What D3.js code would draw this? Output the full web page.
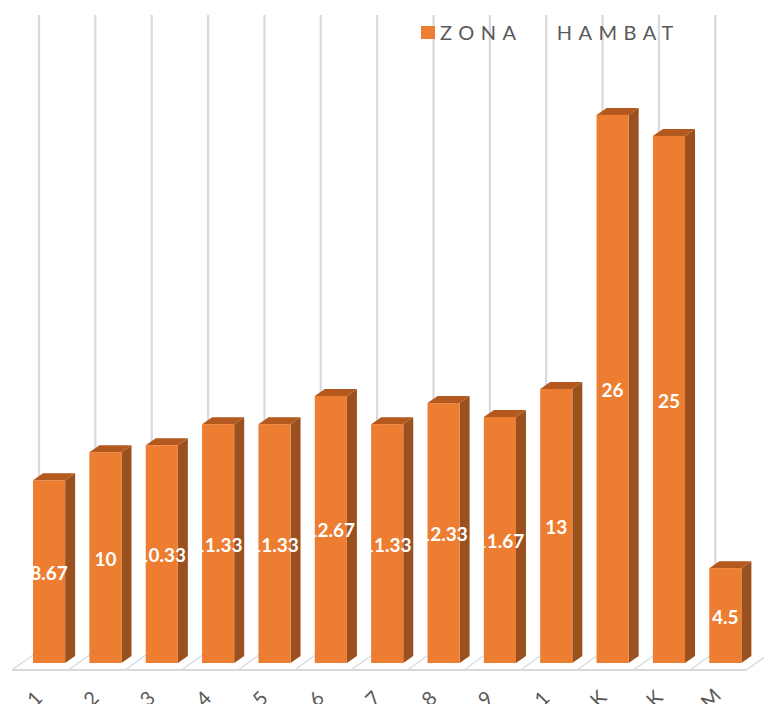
<!DOCTYPE html>
<html>
<head>
<meta charset="utf-8">
<script src="https://cdn.jsdelivr.net/npm/d3@7"></script>
<style>
  html, body { margin: 0; padding: 0; background: #fff; overflow: hidden; }
  svg { display: block; }
  text { font-family: Lato, "Open Sans", sans-serif; }
</style>
</head>
<body>
<svg id="chart" width="764" height="704"></svg>
<script>
// values
const categories = ["1", "2", "3", "4", "5", "6", "7", "8", "9", "1 ", "K", "K ", "M"];
const tickLabels = ["1", "2", "3", "4", "5", "6", "7", "8", "9", "1", "K", "K", "M"];
const values = [8.67, 10, 10.33, 11.33, 11.33, 12.67, 11.33, 12.33, 11.67, 13, 26, 25, 4.5];
const valueLabels = ["8.67", "10", "10.33", "11.33", "11.33", "12.67", "11.33", "12.33", "11.67", "13", "26", "25", "4.5"];
const seriesName = "ZONA   HAMBAT";

const DX = 10, DY = 7;          // bar extrusion
const FRONT = "#ed7d31", TOP = "#b3591f", SIDE = "#9a511f";
const GRID = "#d9d9d9";

const svg = d3.select("#chart");

const x = d3.scaleBand()
  .domain(categories)
  .range([20.9, 753.5])
  .paddingInner(0.43)
  .paddingOuter(0.215);

const y = d3.scaleLinear()
  .domain([0, 30])
  .range([663, 30.6]);

const bw = x.bandwidth();

// back wall grid lines
svg.append("g")
  .selectAll("line")
  .data(categories)
  .enter()
  .append("line")
  .attr("x1", d => x(d) + 6)
  .attr("x2", d => x(d) + 6)
  .attr("y1", 15)
  .attr("y2", 649)
  .attr("stroke", GRID)
  .attr("stroke-width", 2.2);

// floor
const floorY = 670, floorStep = 56.5;
const floor = svg.append("g").attr("fill", "none").attr("stroke", "#d6dce5").attr("stroke-width", 1.5);
floor.selectAll("line.diag")
  .data(categories.concat(["end"]))
  .enter()
  .append("line")
  .attr("class", "diag")
  .attr("x1", (d, i) => 12 + i * floorStep)
  .attr("y1", floorY)
  .attr("x2", (d, i) => 12 + i * floorStep + 21)
  .attr("y2", floorY - 15);
floor.append("line")
  .attr("x1", 12).attr("x2", 12 + categories.length * floorStep)
  .attr("y1", floorY).attr("y2", floorY)
  .attr("stroke", "#d9d9d9").attr("stroke-width", 2);

// bars: side, top, front face
const bars = svg.append("g")
  .selectAll("g")
  .data(values)
  .enter()
  .append("g");

const bx = (d, i) => x(categories[i]);

bars.append("path")
  .attr("fill", SIDE)
  .attr("d", (d, i) => {
    const r = bx(d, i) + bw, t = y(d), b = y(0);
    return `M${r},${t}L${r + DX},${t - DY}L${r + DX},${b - DY}L${r},${b}Z`;
  });

bars.append("path")
  .attr("fill", TOP)
  .attr("d", (d, i) => {
    const l = bx(d, i), t = y(d);
    return `M${l},${t}L${l + DX},${t - DY}L${l + bw + DX},${t - DY}L${l + bw},${t}Z`;
  });

bars.append("rect")
  .attr("x", bx)
  .attr("y", d => y(d))
  .attr("width", bw)
  .attr("height", d => y(0) - y(d))
  .attr("fill", FRONT);

// value labels sit half way up the bar
bars.append("text")
  .attr("x", (d, i) => bx(d, i) + bw / 2)
  .attr("y", d => (y(d) + y(0)) / 2 + 8)
  .attr("text-anchor", "middle")
  .attr("fill", "#fff")
  .attr("font-size", 19)
  .attr("font-weight", 700)
  .text((d, i) => valueLabels[i]);

// rotated category labels, cut off by the picture's bottom edge
svg.append("g")
  .selectAll("text")
  .data(tickLabels)
  .enter()
  .append("text")
  .attr("transform", (d, i) => `translate(${x(categories[i]) + bw / 2 - 13},${700}) rotate(-45)`)
  .attr("text-anchor", "middle")
  .attr("dominant-baseline", "middle")
  .attr("fill", "#595959")
  .attr("font-size", 20)
  .text(d => d);

// legend
svg.append("rect")
  .attr("x", 421).attr("y", 26)
  .attr("width", 14).attr("height", 13)
  .attr("fill", FRONT);

svg.append("text")
  .attr("x", 440).attr("y", 40)
  .attr("fill", "#595959")
  .attr("font-size", 20)
  .attr("letter-spacing", 6.5)
  .style("white-space", "pre")
  .text(seriesName);
</script>
</body>
</html>
